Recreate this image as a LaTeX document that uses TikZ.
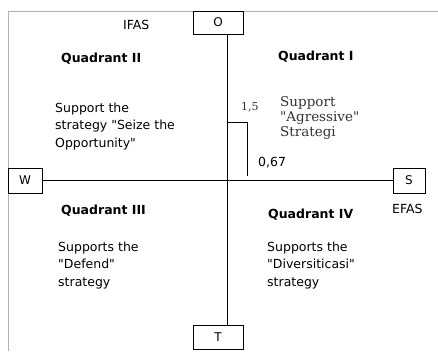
\documentclass[tikz,border=0pt]{standalone}
\usepackage{fontspec}
\setmainfont{DejaVu Sans}[Ligatures=TeXOff]
\newfontfamily\serfont{DejaVu Serif}[Ligatures=TeXOff]
\begin{document}
\begin{tikzpicture}[x=1pt,y=-1pt,
  box/.style={draw,line width=0.8pt,inner sep=0pt,font=\fontsize{12}{14}\selectfont},
  lbl/.style={inner sep=0pt,anchor=base west,font=\fontsize{12.5}{15}\selectfont},
  qhead/.style={inner sep=0pt,anchor=base west,font=\fontsize{12.5}{15}\selectfont\bfseries},
  qtext/.style={inner sep=0pt,anchor=north west,align=left,font=\fontsize{12.5}{17.5}\selectfont},
  stext/.style={inner sep=0pt,anchor=north west,align=left,font=\fontsize{13.5}{15}\selectfont\serfont,text=black!80},
  frame/.style={draw=black!30,line width=0.8pt},
  axis/.style={draw=black,line width=0.7pt}]
\useasboundingbox (0,0) rectangle (438,351);
\draw[frame] (8,351) -- (8,11) -- (438,11);
% boxes
\node[box,minimum width=50pt,minimum height=23pt] (O) at (218,22.5) {O};
\node[box,minimum width=50pt,minimum height=24pt] (T) at (218,337) {T};
\node[box,minimum width=34pt,minimum height=25pt] (W) at (25,180.5) {W};
\node[box,minimum width=32pt,minimum height=25pt] (S) at (409,180.5) {S};
% axes
\coordinate (vx) at (227,0);
\draw[axis] (O.south -| vx) -- (T.north -| vx);
\draw[axis] (W.east) -- (S.west);
% step line
\coordinate (s1) at (227,122);
\coordinate (s2) at (247,122);
\coordinate (s3) at (247,176);
\draw[line width=1pt] (s1) -- (s2) -- (s3);
% labels
\node[lbl] (ifas) at (123,29) {IFAS};
\node[lbl] (efas) at (392,213) {EFAS};
\node[qhead] (q2) at (61,62) {Quadrant II};
\node[qhead] (q1) at (278,60) {Quadrant I};
\node[qhead] (q3) at (61,214) {Quadrant III};
\node[qhead] (q4) at (268,218) {Quadrant IV};
\node[qtext] (t2) at (55,102.5) {Support the\\strategy "Seize the\\Opportunity"};
\node[stext] (t1) at (280,96) {Support\\"Agressive"\\Strategi};
\node[qtext] (t3) at (58,241.5) {Supports the\\"Defend"\\strategy};
\node[qtext] (t4) at (267,241.5) {Supports the\\"Diversiticasi"\\strategy};
\node[inner sep=0pt,anchor=base west,font=\fontsize{11}{13}\selectfont\serfont,text=black!80] (v15) at (241,110) {1,5};
\node[lbl] (v067) at (258,166) {0,67};
\end{tikzpicture}
\end{document}
